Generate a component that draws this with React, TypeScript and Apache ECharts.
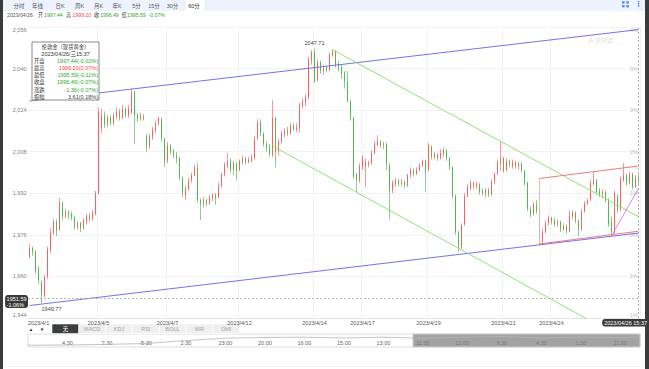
import React, { useEffect, useRef } from 'react';
import * as echarts from 'echarts';

// ---------- data ----------
// hourly candles, [open, close, low, high]
const candles: number[][] = [
  [1967.5, 1971, 1967, 1972.5], [1971, 1969.5, 1968, 1971.5], [1969.5, 1962, 1961, 1970], [1963, 1958.5, 1957, 1964],
  [1958, 1953, 1949.77, 1958.5], [1952.5, 1960, 1952, 1960.5], [1960, 1970.5, 1959, 1971.5], [1970, 1977, 1969, 1978.6],
  [1976.5, 1981, 1976, 1982], [1981, 1977.5, 1975.5, 1982], [1978, 1988.5, 1977.5, 1990], [1988, 1983, 1981.5, 1989],
  [1983, 1985, 1982.5, 1986], [1985, 1983.5, 1982, 1985.5], [1984, 1982.5, 1981.5, 1985], [1983, 1979, 1978, 1983.5],
  [1979, 1980.5, 1978, 1981.5], [1980.5, 1978.5, 1977, 1981], [1978.5, 1981.5, 1978, 1982.5], [1981, 1983.5, 1980, 1984],
  [1983.5, 1982, 1981, 1984.5], [1982, 1984.5, 1981.5, 1985.5], [1984, 1992, 1983.5, 1993], [1992, 2023.5, 1991.5, 2025],
  [2017, 2022, 2015, 2024.5], [2022, 2018.5, 2017, 2023.5], [2018.5, 2021, 2017.5, 2022], [2021, 2019, 2018, 2022],
  [2019, 2022, 2018, 2023], [2021.5, 2023.5, 2020.5, 2025], [2023.5, 2021, 2020, 2024.5], [2021, 2024.5, 2020.5, 2026],
  [2024.5, 2022, 2021, 2025], [2022, 2024.5, 2021, 2026], [2023, 2031, 2022.5, 2032.3], [2031, 2022, 2011, 2031.5],
  [2022, 2020.5, 2019.5, 2023], [2020.5, 2022, 2020, 2023], [2021.5, 2020.5, 2020, 2022.5], [2014, 2009.5, 2008, 2015],
  [2010, 2014, 2009, 2015], [2013.5, 2016.5, 2012.5, 2017.5], [2016, 2019, 2015, 2020], [2019, 2021, 2018, 2021.5],
  [2020.5, 2013, 2012, 2021], [2013, 2004, 2002, 2013.5], [2004.5, 2010.5, 2003.5, 2011.7], [2010.5, 2008, 2007, 2011],
  [2008.5, 2006.5, 2005.5, 2009], [2006.5, 2005.5, 2003.5, 2008], [2005.5, 1998, 1997, 2006], [1998, 1992, 1990.5, 1998.5],
  [1991, 1994, 1989.4, 1995], [1993.5, 1997, 1993, 1998], [1997, 1999, 1996, 2000], [1999, 2002, 1998.5, 2003],
  [2002, 1989.5, 1988.5, 2003.5], [1989.5, 1988, 1981.7, 1990], [1988, 1989.5, 1986.5, 1990.5], [1989.5, 1988, 1987, 1990],
  [1988, 1990.5, 1987.5, 1991.5], [1990, 1991.5, 1989, 1992], [1991.5, 1990, 1987.5, 1992], [1990.5, 1995, 1990, 1996],
  [1995, 1999.5, 1994, 2000], [1999.5, 2003, 1998.5, 2004], [2002.5, 2004.5, 2001.5, 2007.5], [2004.5, 2001, 2000, 2005.5],
  [2001, 2003.5, 1999, 2004.5], [2003.5, 2000.5, 1997, 2004], [2001, 2004.5, 2000.5, 2005], [2004, 2005.5, 2003, 2006.5],
  [2005.5, 2004, 2003, 2006], [2004, 2005, 2003.5, 2006], [2004.5, 2006, 2004, 2007], [2005.5, 2013, 2005, 2014],
  [2013, 2019.5, 2012.5, 2020.5], [2019.5, 2015, 2014, 2020.5], [2015, 2011, 2010, 2015.5], [2011, 2009.5, 2008, 2012],
  [2010, 2007, 2006, 2011], [2006.5, 2021, 2006, 2027.8], [2021, 2008, 2002, 2021.5], [2008, 2012, 2006.5, 2013],
  [2012, 2015, 2011, 2016], [2014.5, 2016, 2013.5, 2017], [2016, 2015, 2014, 2017.5], [2015, 2018, 2014.5, 2019],
  [2018, 2016.5, 2016, 2019], [2016.5, 2017.5, 2015.5, 2019], [2017, 2026, 2015.5, 2026.7], [2025.5, 2027.5, 2024.5, 2028.6],
  [2027, 2029, 2025.5, 2030], [2029, 2043.5, 2028, 2044.5], [2043, 2046.5, 2041.5, 2047], [2046.5, 2035, 2034.5, 2047.71],
  [2035.5, 2042.5, 2035, 2043.5], [2042.5, 2039, 2038, 2043], [2039, 2040, 2037.5, 2041.5], [2040.5, 2039.5, 2038.5, 2041],
  [2039.5, 2045.5, 2039, 2046], [2045, 2046.5, 2044.5, 2047.3], [2046.5, 2041.5, 2040.5, 2047], [2042, 2040, 2039, 2043],
  [2040.5, 2038, 2036, 2041.5], [2038.5, 2035, 2032.3, 2039], [2035, 2027.5, 2027, 2039], [2027.5, 2021, 2020, 2028],
  [2021, 1998.5, 1997.5, 2021.5], [1999.5, 1997, 1992.5, 2000], [1997, 2002.5, 1996, 2003.5], [2002, 2005.5, 2001, 2006.7],
  [2002.5, 2004, 1994.5, 2005.5], [2003, 2004, 2002, 2004.5], [2003.5, 2007.5, 2003, 2008.5], [2007.5, 2011, 2007, 2012],
  [2010.5, 2012, 2010, 2014.4], [2012, 2010.5, 2009.5, 2012.5], [2010.5, 2011, 2009, 2012], [2011, 2003, 2001, 2011.5],
  [2003, 1993, 1981.7, 2003.5], [1993, 1996, 1992, 1997], [1995.5, 1997, 1994.5, 1998], [1997, 1995.5, 1994.5, 1997.5],
  [1995.5, 1996.5, 1994.5, 1997.5], [1996.5, 1995, 1994, 1997], [1995, 1999, 1994.5, 1999.5], [1999, 2001, 1998, 2002],
  [2001, 1999.5, 1998.5, 2001.5], [1999.5, 2001, 1999, 2002], [2001, 2003, 2000.5, 2003.5], [2002.5, 2004.5, 2002, 2005],
  [2004.5, 2000.5, 1992.5, 2005], [2001, 2010.5, 2000.5, 2011.3], [2010, 2006, 2005, 2010.5], [2006, 2007, 2005, 2008],
  [2007, 2005.5, 2004.5, 2007.5], [2005.5, 2007.5, 2005, 2009], [2007, 2008.5, 2006, 2009.5], [2008.5, 2005.5, 2004.5, 2009],
  [2005.5, 2002, 2001, 2006], [2002, 1991, 1990, 2002.5], [1991, 1977, 1976, 1991.5], [1977, 1971.5, 1969.5, 1977.5],
  [1971, 1980, 1970.5, 1980.5], [1980, 1991, 1979.5, 1992], [1991, 1994.5, 1990.5, 1995.5], [1994, 1996, 1993, 1997],
  [1996, 1994.5, 1993.5, 1996.5], [1994.5, 1995.5, 1993.5, 1996.5], [1995.5, 1992.5, 1991.5, 1996], [1993, 1992, 1991, 1994],
  [1992, 1993.5, 1990.5, 1994], [1993.5, 1991.5, 1990.5, 1994], [1991.5, 1996.5, 1991, 1997.5], [1996.5, 1999.5, 1995.5, 2000],
  [1999.5, 2004, 1999, 2005], [2003.5, 2005.5, 2000.5, 2011.8], [2005.5, 2000.5, 2000, 2006], [2001, 2004.5, 2000.5, 2005.5],
  [2004.5, 2003, 2002, 2005], [2002.5, 2004, 2001.5, 2005], [2004, 2002.5, 2001.5, 2004.5], [2002.5, 2003.5, 2001, 2004],
  [2003.5, 2000.5, 2000, 2004], [2000.5, 1996, 1995, 2001], [1996, 1986, 1985, 1996.5], [1986, 1983.5, 1982.8, 1987],
  [1984, 1987.5, 1983.5, 1988.5], [1987.5, 1985, 1984, 1989.4], [1986, 1973.5, 1972, 1987], [1973.5, 1977, 1972.5, 1978.5],
  [1977, 1980.5, 1976.5, 1981.5], [1980.5, 1982.5, 1979.5, 1983.5], [1982.5, 1981, 1980, 1983], [1981.5, 1980, 1979, 1982.5],
  [1980, 1981, 1979, 1982], [1981, 1978, 1977, 1981.5], [1978, 1979.5, 1977.5, 1980.5], [1979.5, 1977.5, 1976.5, 1980],
  [1977.5, 1983.5, 1977, 1985.5], [1983, 1984.5, 1982, 1985.5], [1984.5, 1981.5, 1980.5, 1985], [1981.5, 1978, 1975.5, 1982],
  [1978, 1985, 1977.5, 1986], [1985, 1988, 1984.5, 1989], [1988, 1989.5, 1987.5, 1990], [1989.5, 1996, 1989, 1997],
  [1995.5, 1997, 1995, 2000.3], [1997, 1992.5, 1991.5, 1997.5], [1993, 1991.5, 1990.5, 1994], [1991.5, 1992.5, 1990, 1993.5],
  [1992.5, 1989.5, 1988.5, 1993], [1989.5, 1980, 1979, 1990], [1981, 1977, 1975.9, 1983], [1977, 1992, 1976.5, 1993],
  [1991, 1985.5, 1984.5, 1991.5], [1985.5, 1997.5, 1985, 1998.5], [1997, 1999, 1996.5, 2003.6], [1999, 1996, 1995, 1999.5],
  [1996, 1999.5, 1995.5, 2000.5], [1999.5, 1994.5, 1993.5, 2000], [1994.5, 1998, 1994, 1999], [1997.44, 1996.49, 1995.59, 1999.2],
];

const xTickIndex = [3, 23, 46, 70, 95, 111, 133, 158, 174];
const xTickLabels = ['2023/4/1', '2023/4/5', '2023/4/7', '2023/4/12', '2023/4/14', '2023/4/17', '2023/4/19', '2023/4/21', '2023/4/24'];
const yMin = 1944;
const yMax = 2056;
const yStep = 16;
const prevClose = 1972.5; // basis of the right-hand % scale
const crossPrice = 1951.59;
const lastTime = '2023/04/26 15:37';
const peakMark = [95, 2047.71];
const lowMark = [4, 1949.77];

// user-drawn lines: [candle index, price]
const channelTop = [[0, 2027.5], [203, 2055.0]];
const channelBottom = [[0, 1948.8], [203, 1976.7]];
const downTop = [[101, 2047.3], [203, 1983.0]];
const downBottom = [[81, 2010.2], [190, 1941.0]];
const redTop = [[170, 1997.7], [203, 2002.5]];
const redBottom = [[170, 1972.5], [203, 1977.4]];
const redEdge = [[170, 1972.5], [170, 1997.7]];
const upLine = [[194, 1975.6], [203, 1993.8]];

const toolbarTabs = ['分时', '年线', '日K', '周K', '月K', '年K', '5分', '15分', '30分', '60分'];
const activeTab = 9;
const infoDate = '2023/04/26';
const infoFields = [['开', 1997.44], ['高', 1999.2], ['收', 1996.49], ['低', 1995.59]];
const infoChange = '-0.07%';
const lastBarPrevClose = 1997.85;

const tipTitle = '伦敦金（现货黄金）';
const tipTime = '2023/04/26/三15:37';
const tipRows = [
  ['开盘', '1997.44', '-0.02%'],
  ['最高', '1999.20', '0.07%'],
  ['最低', '1995.59', '-0.11%'],
  ['收盘', '1996.49', '-0.07%'],
  ['涨跌', '-1.36', '-0.07%'],
  ['振幅', '3.61', '0.18%'],
];

const indicatorTabs = ['无', 'MACD', 'KDJ', 'RSI', 'BOLL', 'WR', 'DMI'];

const navLabels = ['4:30', '2:30', '5:30', '2:30', '23:00', '20:00', '16:00', '15:00', '13:00', '11:00', '12:00', '9:30', '4:30', '1:30', '21:00'];
const navLine = [[0, 1.8], [4, 2.0], [8, 2.6], [12, 3.5], [16, 6.5], [20, 8.8], [24, 9.5], [28, 9.8], [32, 9.0], [36, 9.8], [40, 8.8], [44, 9.8], [48, 10.5], [52, 9.0], [56, 10.0], [60, 9.5], [62, 10.0]];
const navSelect = [39, 62];

// ---------- style / layout ----------
const FONT = "'Liberation Sans','Noto Sans CJK SC',sans-serif";
const UP = '#ee2f2f';
const DOWN = '#14a014';
const TXT_RED = '#f24a4a';
const TXT_GREEN = '#2ea82e';
const tabX = [19, 37.5, 60, 79.5, 98.5, 117, 136.5, 154, 172.5, 194];
const infoX = [[38, 44], [66, 72.5], [94, 100], [121.5, 127]];

function txt(x: number, y: number, text: string, fill: string, size = 5.5, align = 'left', extra: any = {}) {
  return {
    type: 'text', x, y, silent: true, z: 10,
    style: { text, fill, fontSize: size, fontFamily: FONT, align, verticalAlign: 'middle', ...extra },
  };
}

function buildGraphics() {
  const g: any[] = [];
  // toolbar
  g.push({ type: 'rect', shape: { x: 3, y: 0, width: 642, height: 11 }, style: { fill: '#ecf3fd' }, silent: true });
  g.push({ type: 'rect', shape: { x: 186, y: 0, width: 18.5, height: 11 }, style: { fill: '#ffffff' }, silent: true });
  toolbarTabs.forEach((t, i) => g.push(txt(tabX[i], 5.5, t, i === activeTab ? '#333' : '#555', 5.5, 'center')));
  // icons
  [[622, 1.2], [626.3, 1.2], [622, 5], [626.3, 5]].forEach(([x, y]) =>
    g.push({ type: 'rect', shape: { x, y, width: 2.6, height: 2.4 }, style: { fill: '#5b8ee6' }, silent: true }));
  [1.6, 3.8, 6].forEach((y) => g.push({ type: 'circle', shape: { cx: 638.6, cy: y, r: 0.8 }, style: { fill: '#5b8ee6' }, silent: true }));
  // info line
  g.push(txt(7, 15, infoDate, '#555', 5.2));
  infoFields.forEach(([k, v], i) => {
    g.push(txt(infoX[i][0], 15, String(k), '#444', 5.2));
    g.push(txt(infoX[i][1], 15, (v as number).toFixed(2), (v as number) >= lastBarPrevClose ? TXT_RED : TXT_GREEN, 5.2));
  });
  g.push(txt(148.5, 15, infoChange, infoChange.startsWith('-') ? TXT_GREEN : TXT_RED, 5.2));
  // watermark
  g.push(txt(600, 40, '东方财富', '#e2e2e2', 6.5, 'center', { fontStyle: 'italic' }));
  // tooltip box
  g.push({ type: 'rect', shape: { x: 32, y: 42, width: 67, height: 58 }, style: { fill: '#fff', stroke: '#8a8a8a', lineWidth: 1 }, z: 9, silent: true });
  g.push(txt(65.5, 46.5, tipTitle, '#333', 5.3, 'center'));
  g.push(txt(65.5, 53.6, tipTime, '#333', 5.5, 'center'));
  tipRows.forEach(([k, v, p], r) => {
    const y = 60.8 + r * 7.2;
    const color = k === '振幅' ? '#444' : p.startsWith('-') ? TXT_GREEN : TXT_RED;
    g.push(txt(34, y, k, '#333', 5.3));
    g.push(txt(98, y, `${v}(${p})`, color, 5.5, 'right'));
  });
  // indicator tabs
  g.push(txt(31, 329, '▲', '#222', 4.5, 'center'));
  g.push(txt(42, 329, '▼', '#222', 4.5, 'center'));
  const tw = 26.8;
  indicatorTabs.forEach((t, k) => {
    const x = 52 + k * tw;
    g.push({ type: 'rect', shape: { x, y: 324, width: tw, height: 9.5 }, style: { fill: k === 0 ? '#3d3d3d' : '#efefef', stroke: '#fff', lineWidth: 0.6 }, silent: true });
    g.push(txt(x + tw / 2, 328.8, t, k === 0 ? '#fff' : '#a2a2a2', 5.5, 'center'));
  });
  // bottom rule & frame bars
  g.push({ type: 'rect', shape: { x: 3, y: 366, width: 642, height: 0.8 }, style: { fill: '#ececec' }, silent: true });
  g.push({ type: 'rect', shape: { x: 0, y: 0, width: 3, height: 369 }, style: { fill: '#3b3b3b' }, z: 20, silent: true });
  g.push({ type: 'rect', shape: { x: 645, y: 0, width: 4, height: 369 }, style: { fill: '#3b3b3b' }, z: 20, silent: true });
  return g;
}

function buildOption(): any {
  const cats = candles.map((_, i) => String(i));
  const tickMap = new Map<number, string>(xTickIndex.map((k, j) => [k, xTickLabels[j]]));
  const splitSet = new Set(xTickIndex.slice(1));
  const navCats = Array.from({ length: 63 }, (_, i) => String(i));
  const navMap = new Map<number, string>(navLabels.map((t, k) => [(k + 1) * 4, t]));
  const pct = (v: number) => Math.round((v / prevClose - 1) * 100) + '%';

  const drawn = [
    { d: channelTop, c: '#6262ee' },
    { d: channelBottom, c: '#6262ee' },
    { d: downTop, c: '#84de66' },
    { d: downBottom, c: '#84de66' },
    { d: redTop, c: '#ee6a6a' },
    { d: redBottom, c: '#ee6a6a' },
    { d: redEdge, c: '#f5b0b0' },
    { d: upLine, c: '#e070ea' },
  ];

  return {
    animation: false,
    backgroundColor: '#ffffff',
    textStyle: { fontFamily: FONT },
    axisPointer: { triggerOn: 'none' },
    grid: [
      { left: 28, right: 9, top: 27, height: 291 },
      { left: 28, right: 9, top: 334, height: 13, show: true, borderColor: '#d6d6d6', borderWidth: 0.8 },
    ],
    xAxis: [
      {
        type: 'category', gridIndex: 0, data: cats, boundaryGap: true,
        axisLine: { lineStyle: { color: '#e4e4e4' } }, axisTick: { show: false },
        axisLabel: {
          interval: (i: number) => tickMap.has(i),
          formatter: (_v: string, i: number) => tickMap.get(i) ?? '',
          fontSize: 5.5, color: '#555', margin: 2,
        },
        splitLine: { show: true, interval: (i: number) => splitSet.has(i), lineStyle: { color: '#efefef', width: 0.8 } },
        axisPointer: {
          show: true, status: 'show', value: candles.length - 1, type: 'line', snap: true, triggerTooltip: false,
          lineStyle: { color: '#9a9a9a', type: [2, 2], width: 0.8 },
          label: { show: true, formatter: () => lastTime, backgroundColor: '#3a3a3a', color: '#fff', fontSize: 5.5, padding: [1, 2], margin: 1 },
        },
      },
      {
        type: 'category', gridIndex: 1, data: navCats, boundaryGap: false,
        axisLine: { show: false }, axisTick: { show: false }, splitLine: { show: false },
        axisLabel: {
          inside: true, interval: (i: number) => navMap.has(i),
          formatter: (_v: string, i: number) => navMap.get(i) ?? '',
          fontSize: 5.5, color: '#666', margin: 1.5,
        },
      },
    ],
    yAxis: [
      {
        type: 'value', gridIndex: 0, min: yMin, max: yMax, interval: yStep, position: 'left',
        axisLine: { show: false }, axisTick: { show: false },
        axisLabel: { fontSize: 5.5, color: '#808080', margin: 1.5, verticalAlignMinLabel: 'bottom', verticalAlignMaxLabel: 'top' },
        splitLine: { lineStyle: { color: '#efefef', width: 0.8 } },
        axisPointer: {
          show: true, status: 'show', value: crossPrice, type: 'line', snap: false, triggerTooltip: false,
          lineStyle: { color: '#a8a8a8', type: [2, 2], width: 0.8 },
          label: {
            show: true, backgroundColor: '#3a3a3a', color: '#fff', fontSize: 5.5, lineHeight: 6, padding: [0.5, 1.5], margin: 0,
            formatter: (p: any) => {
              const v = Number(p.value);
              return v.toFixed(2) + '\n' + ((v / prevClose - 1) * 100).toFixed(2) + '%';
            },
          },
        },
      },
      {
        type: 'value', gridIndex: 0, min: yMin, max: yMax, interval: yStep, position: 'right',
        axisLine: { show: false }, axisTick: { show: false }, splitLine: { show: false },
        axisLabel: { inside: true, formatter: pct, fontSize: 5.5, color: '#bdbdbd', margin: 2, verticalAlignMinLabel: 'bottom', verticalAlignMaxLabel: 'top' },
      },
      { type: 'value', gridIndex: 1, min: 0, max: 13, show: false },
    ],
    series: [
      {
        type: 'candlestick', xAxisIndex: 0, yAxisIndex: 0, data: candles, barWidth: 1.4,
        itemStyle: { color: UP, color0: DOWN, borderColor: UP, borderColor0: DOWN, borderWidth: 0.5 },
        markPoint: {
          symbol: 'circle', symbolSize: 1, itemStyle: { color: 'rgba(0,0,0,0)' }, silent: true,
          label: { show: true, fontSize: 5.5, color: '#444', formatter: (p: any) => Number(p.value).toFixed(2) },
          data: [
            { coord: peakMark, value: peakMark[1], label: { position: 'top', distance: 2 } },
            { coord: lowMark, value: lowMark[1], label: { position: 'bottom', distance: 2.5, offset: [10, 0] } },
          ],
        },
        z: 2,
      },
      ...drawn.map((s) => ({
        type: 'line', xAxisIndex: 0, yAxisIndex: 0, data: s.d, symbol: 'none', silent: true, z: 3,
        lineStyle: { color: s.c, width: 0.9 },
      })),
      {
        type: 'line', xAxisIndex: 1, yAxisIndex: 2, data: navLine, symbol: 'none', silent: true,
        lineStyle: { color: '#b5b5b5', width: 0.8 },
        markArea: {
          silent: true,
          itemStyle: { color: 'rgba(128,128,128,0.72)', borderColor: '#d0d0d0', borderWidth: 1 },
          data: [[{ xAxis: navSelect[0] }, { xAxis: navSelect[1] }]],
        },
      },
    ],
    graphic: buildGraphics(),
  };
}

export default function App() {
  const ref = useRef<HTMLDivElement>(null);
  useEffect(() => {
    const chart = echarts.init(ref.current!, null, { renderer: 'svg' });
    chart.setOption(buildOption());
    return () => chart.dispose();
  }, []);
  return (
    <div
      ref={ref}
      style={{ position: 'absolute', left: 0, top: 0, width: 649, height: 369, background: '#fff' }}
    />
  );
}
